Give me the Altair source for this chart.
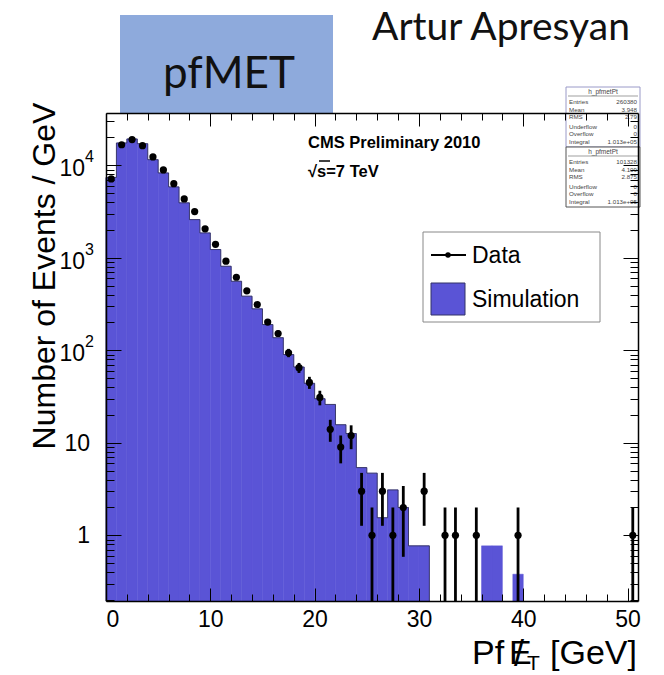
import math
import altair as alt
import pandas as pd

# ---------------- histogram content (1 GeV bins, 0-51 GeV) ----------------
bin_low = list(range(51))
data_events = [7130, 16700, 18970, 16320, 12320, 8920, 6340, 4330, 3160, 2060,
               1400, 919, 617, 440, 313, 202, 152, 94, 65, 45,
               31, 14, 9, 12, 3, 1, 3, 1, 2, 0,
               3, 0, 1, 1, 0, 1, 0, 0, 0, 1,
               0, 0, 0, 0, 0, 0, 0, 0, 0, 0,
               1]
sim_events = [7400, 17450, 19280, 17140, 11520, 8280, 5850, 3930, 2590, 1860,
              1230, 811, 558, 385, 281, 190, 137, 90, 66, 44,
              30, 26, 15.7, 12.6, 5.4, 4.7, 1.55, 3.1, 2.0, 0.77,
              0.77, 0, 0, 0, 0, 0, 0.77, 0.77, 0, 0.38,
              0, 0, 0, 0, 0, 0, 0, 0, 0, 0,
              0]

x_label_values = [0, 10, 20, 30, 40, 50]
y_decades = [1, 10, 100, 1000, 10000]
y_decade_text = ["1", "10", "10", "10", "10"]
y_decade_exp = ["", "", "2", "3", "4"]

stats_data = [("Entries", "260380"), ("Mean", "3.948"), ("RMS", "2.79"),
              ("Underflow", "0"), ("Overflow", "0"), ("Integral", "1.013e+05")]
stats_sim = [("Entries", "101328"), ("Mean", "4.109"), ("RMS", "2.875"),
             ("Underflow", "0"), ("Overflow", "0"), ("Integral", "1.013e+05")]

# ---------------- geometry / style ----------------
W, H = 532, 488
X_MIN, X_MAX = 0, 51
Y_MIN, Y_MAX = 0.195, 36800
SIM_BLUE = "#5a54d6"
FONT = "Liberation Sans"

xs = alt.Scale(domain=[X_MIN, X_MAX], nice=False, zero=False)
ys = alt.Scale(type="log", domain=[Y_MIN, Y_MAX], nice=False)

x_tick_values = list(range(0, 51, 2))
y_tick_values = [m * 10.0 ** e for e in range(-1, 5) for m in range(1, 10)
                 if Y_MIN <= m * 10.0 ** e <= Y_MAX]

x_major_test = "datum.value % 10 == 0"
y_major_test = "abs(log(datum.value)/LN10 - round(log(datum.value)/LN10)) < 0.000001"


def x_tick_axis(orient, offset):
    return alt.Axis(orient=orient, offset=offset, values=x_tick_values, labels=False,
                    title=None, grid=False, domain=True, domainColor="black",
                    domainWidth=1.5, tickColor="black", tickWidth=1, zindex=2,
                    tickSize={"condition": {"test": x_major_test, "value": 13}, "value": 7})


def y_tick_axis(orient, offset):
    return alt.Axis(orient=orient, offset=offset, values=y_tick_values, labels=False,
                    title=None, grid=False, domain=True, domainColor="black",
                    domainWidth=1.5, tickColor="black", tickWidth=1, zindex=2,
                    tickSize={"condition": {"test": y_major_test, "value": 15}, "value": 8})


x_label_axis = alt.Axis(orient="bottom", values=x_label_values, ticks=False, domain=False,
                        grid=False, title=None, labelFont=FONT, labelFontSize=23,
                        labelColor="black", labelPadding=7, format="d")

# ---------------- tables ----------------
sim_df = pd.DataFrame({"lo": bin_low, "val": sim_events})
sim_df["hi"] = sim_df["lo"] + 1
sim_df = sim_df[sim_df["val"] > 0]

# outline of the contiguous simulated block
last = 31
edge_x = [0] + list(range(0, last)) + [last, last]
edge_y = [Y_MIN] + sim_events[:last] + [sim_events[last - 1], Y_MIN]
outline_df = pd.DataFrame({"edge": edge_x, "val": edge_y, "o": list(range(len(edge_x)))})

dat = pd.DataFrame({"lo": bin_low, "n": data_events})
dat = dat[dat["n"] > 0].copy()
dat["center"] = dat["lo"] + 0.5
dat["err_lo"] = [max(n - math.sqrt(n), Y_MIN) for n in dat["n"]]
dat["err_hi"] = [n + math.sqrt(n) for n in dat["n"]]

# ---------------- plot layers ----------------
sim_layer = alt.Chart(sim_df).mark_rect(color=SIM_BLUE, stroke=SIM_BLUE, strokeWidth=0.5).encode(
    x=alt.X("lo:Q", scale=xs, axis=x_label_axis),
    x2="hi:Q",
    y=alt.Y("val:Q", scale=ys, axis=y_tick_axis("right", -W)),
    y2=alt.datum(Y_MIN),
)

outline_layer = alt.Chart(outline_df).mark_line(
    interpolate="step-after", color="#2a2a50", strokeWidth=1, opacity=0.8
).encode(
    x=alt.X("edge:Q", scale=xs, axis=x_tick_axis("bottom", -H)),
    y=alt.Y("val:Q", scale=ys, axis=y_tick_axis("left", -W)),
    order="o:Q",
)

err_layer = alt.Chart(dat).mark_rule(color="black", strokeWidth=2.8).encode(
    x=alt.X("center:Q", scale=xs, axis=x_tick_axis("top", -H)),
    y=alt.Y("err_lo:Q", scale=ys, axis=None),
    y2="err_hi:Q",
)

pt_layer = alt.Chart(dat).mark_circle(color="black", opacity=1, size=52).encode(
    x=alt.X("center:Q", scale=xs, axis=None),
    y=alt.Y("n:Q", scale=ys, axis=None),
)

ylab_df = pd.DataFrame({"v": y_decades, "t": y_decade_text, "e": y_decade_exp})
ylab_plain = alt.Chart(ylab_df[ylab_df["e"] == ""]).mark_text(
    font=FONT, fontSize=23, align="right", baseline="middle", color="black", dy=1
).encode(x=alt.value(-16), y=alt.Y("v:Q", scale=ys, axis=None), text="t:N")
ylab_base = alt.Chart(ylab_df[ylab_df["e"] != ""]).mark_text(
    font=FONT, fontSize=23, align="right", baseline="middle", color="black", dy=4
).encode(x=alt.value(-21), y=alt.Y("v:Q", scale=ys, axis=None), text="t:N")
ylab_exp = alt.Chart(ylab_df[ylab_df["e"] != ""]).mark_text(
    font=FONT, fontSize=16, align="left", baseline="middle", color="black", dy=-8
).encode(x=alt.value(-21), y=alt.Y("v:Q", scale=ys, axis=None), text="e:N")


# ---------------- annotation helpers ----------------
def text(t, x, y, size, font=FONT, weight="normal", align="left",
         baseline="alphabetic", color="black", angle=0):
    return alt.Chart(pd.DataFrame({"t": [t]})).mark_text(
        font=font, fontSize=size, fontWeight=weight, align=align,
        baseline=baseline, color=color, angle=angle
    ).encode(x=alt.value(x), y=alt.value(y), text="t:N")


def box(x1, y1, x2, y2, fill, stroke, sw=1.0):
    return alt.Chart(pd.DataFrame({"k": [0]})).mark_rect(
        fill=fill, stroke=stroke, strokeWidth=sw
    ).encode(x=alt.value(x1), x2=alt.value(x2), y=alt.value(y1), y2=alt.value(y2))


def seg(x1, y1, x2, y2, color="black", width=1.0):
    return alt.Chart(pd.DataFrame({"k": [0]})).mark_rule(
        color=color, strokeWidth=width
    ).encode(x=alt.value(x1), x2=alt.value(x2), y=alt.value(y1), y2=alt.value(y2))


annotations = []

# axis titles
annotations.append(text("Number of Events / GeV", -51, 163, 32, angle=270, align="center"))
annotations.append(text("Pf", 366, 551, 34))
annotations.append(text("E", 403, 551, 34))
annotations.append(text("/", 408, 553, 36))
annotations.append(text("T", 421, 557, 21))
annotations.append(text("[GeV]", 531, 551, 34, align="right"))

# CMS label
annotations.append(text("CMS Preliminary 2010", 202, 35, 16.5, weight="bold"))
annotations.append(text("\u221as=7 TeV", 202, 64, 16.5, weight="bold"))
annotations.append(seg(213, 48, 224, 48, "black", 1.5))

# legend
annotations.append(box(317, 119, 494, 209, "white", "#888888", 1))
annotations.append(seg(325, 142, 360, 142, "black", 2))
annotations.append(alt.Chart(pd.DataFrame({"k": [0]})).mark_circle(
    color="black", opacity=1, size=30).encode(x=alt.value(342), y=alt.value(142)))
annotations.append(text("Data", 366, 150, 23))
annotations.append(box(325, 170, 359, 202, SIM_BLUE, "#333366", 1))
annotations.append(text("Simulation", 366, 194, 23))

# statistics boxes
row_offsets = [15, 22.5, 29.5, 39.5, 46.5, 55]
for top, rows, border in [(-26, stats_data, "#9a9ac8"), (34, stats_sim, "#555555")]:
    annotations.append(box(460, top, 534, top + 60, "white", border, 1))
    annotations.append(text("h_pfmetPt", 497, top + 5, 6.5, align="center",
                            baseline="middle", color="#444444"))
    annotations.append(seg(462, top + 9, 532, top + 9, "#777777", 0.7))
    for off, (k, v) in zip(row_offsets, rows):
        annotations.append(text(k, 463, top + off, 6.2, baseline="middle", color="#444444"))
        annotations.append(text(v, 531, top + off, 6.2, align="right", baseline="middle",
                                color="#444444"))

# slide header
annotations.append(box(14, -98, 227, 0, "#8eaadc", "#8eaadc", 0))
annotations.append(text("pfMET", 123, -25, 44, font="Lato", align="center", color="#111111"))
annotations.append(text("Artur Apresyan", 395, -73, 39, font="Lato", align="center", color="#111111"))

chart = alt.layer(
    sim_layer, outline_layer, err_layer, pt_layer, ylab_plain, ylab_base, ylab_exp,
    *annotations
).resolve_axis(x="independent", y="independent").properties(
    width=W, height=H,
    autosize=alt.AutoSizeParams(type="none"),
    padding={"left": 106, "top": 113, "right": 26, "bottom": 74},
    background="white",
).configure_view(stroke=None)

chart.save("out.html", embed_options={"renderer": "svg", "actions": False})
